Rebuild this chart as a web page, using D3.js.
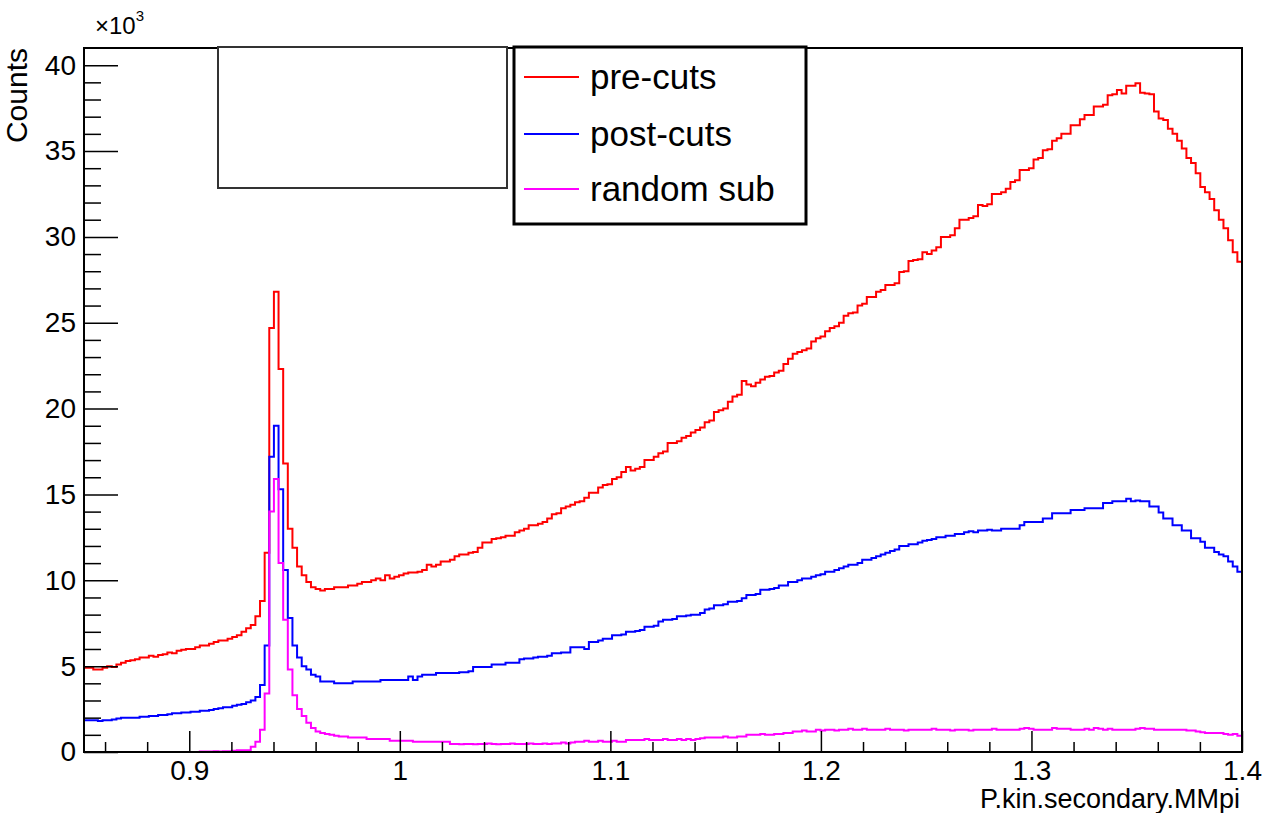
<!DOCTYPE html>
<html>
<head>
<meta charset="utf-8">
<script src="https://cdn.jsdelivr.net/npm/d3@7/dist/d3.min.js"></script>
<style>
  html, body { margin: 0; padding: 0; background: #fff; }
  svg { display: block; font-family: "Liberation Sans", Arial, Helvetica, sans-serif; }
</style>
</head>
<body>
<svg id="chart" width="1262" height="813"></svg>
<script>
// ---- data (counts in units of 10^3), 250 bins from 0.85 to 1.4 ----
const xLow = 0.85, xHigh = 1.4, nBins = 250;

const preCuts = [
  4.9,4.9,4.8,4.8,4.9,5.0,4.95,5.1,5.2,5.3,
  5.35,5.4,5.5,5.5,5.6,5.55,5.65,5.7,5.8,5.75,
  5.9,5.95,6.0,6.0,6.1,6.2,6.2,6.3,6.4,6.5,
  6.5,6.6,6.7,6.8,7.0,7.2,7.4,7.9,8.8,11.6,
  24.7,26.8,22.3,16.8,13.0,11.9,10.8,10.3,9.9,9.6,
  9.5,9.4,9.5,9.5,9.6,9.6,9.6,9.7,9.7,9.8,
  9.9,9.9,10.0,10.1,10.0,10.3,10.1,10.2,10.3,10.4,
  10.45,10.45,10.5,10.6,10.9,10.8,10.9,11.1,11.1,11.2,
  11.4,11.5,11.5,11.6,11.65,11.9,12.2,12.2,12.4,12.45,
  12.5,12.6,12.6,12.8,12.9,13.0,13.2,13.2,13.3,13.4,
  13.6,13.85,13.9,14.2,14.3,14.4,14.55,14.6,14.8,15.1,
  15.1,15.4,15.55,15.6,15.9,16.0,16.3,16.6,16.4,16.5,
  16.6,17.0,17.0,17.2,17.4,17.5,18.0,18.0,18.1,18.3,
  18.4,18.6,18.75,18.9,19.2,19.3,19.8,19.9,20.0,20.4,
  20.7,20.8,21.6,21.4,21.3,21.5,21.7,21.85,21.9,22.1,
  22.2,22.6,22.9,23.2,23.3,23.4,23.5,23.9,24.1,24.2,
  24.5,24.7,24.8,25.0,25.4,25.55,25.6,26.0,26.1,26.5,
  26.5,26.8,26.9,27.2,27.2,27.3,27.95,28.0,28.6,28.65,
  28.7,29.1,29.0,29.2,29.4,30.0,30.0,30.1,30.5,31.0,
  31.0,31.1,31.2,31.85,31.8,31.9,32.5,32.5,32.6,32.8,
  33.2,33.3,33.9,33.9,34.0,34.5,34.6,35.05,35.1,35.6,
  35.75,36.0,36.0,36.5,36.5,36.85,37.1,37.1,37.6,37.6,
  37.7,38.25,38.3,38.55,38.35,38.8,38.8,38.95,38.4,38.35,
  38.3,37.3,36.9,36.8,36.3,36.0,35.6,35.15,34.6,34.3,
  33.7,32.9,32.6,32.2,31.55,31.0,30.5,29.8,29.1,28.55
];

const postCuts = [
  1.85,1.85,1.85,1.8,1.85,1.85,1.9,1.95,2.0,2.0,
  2.0,2.0,2.05,2.05,2.1,2.1,2.15,2.15,2.2,2.25,
  2.25,2.3,2.3,2.35,2.35,2.4,2.4,2.45,2.5,2.55,
  2.6,2.6,2.7,2.75,2.8,2.9,3.0,3.2,3.9,6.2,
  17.2,19.0,15.3,10.6,7.8,6.2,5.5,5.0,4.8,4.5,
  4.4,4.1,4.1,4.1,4.0,4.0,4.0,4.0,4.1,4.1,
  4.1,4.1,4.1,4.1,4.2,4.2,4.2,4.2,4.2,4.2,
  4.4,4.2,4.4,4.5,4.5,4.5,4.6,4.6,4.6,4.6,
  4.6,4.65,4.65,4.7,4.95,4.95,4.95,4.95,5.1,5.1,
  5.1,5.2,5.2,5.2,5.4,5.45,5.45,5.5,5.55,5.55,
  5.6,5.75,5.75,5.8,5.8,6.1,6.1,6.1,6.0,6.4,
  6.4,6.5,6.6,6.6,6.8,6.8,6.85,7.0,7.0,7.05,
  7.1,7.3,7.3,7.35,7.6,7.7,7.7,7.75,7.9,7.9,
  7.95,8.0,8.0,8.1,8.3,8.35,8.55,8.55,8.6,8.75,
  8.75,8.8,8.95,9.15,9.15,9.2,9.45,9.45,9.5,9.55,
  9.7,9.7,9.9,9.9,10.0,10.1,10.1,10.2,10.3,10.35,
  10.5,10.5,10.6,10.7,10.8,10.9,10.9,11.0,11.2,11.2,
  11.3,11.4,11.5,11.6,11.7,11.8,12.0,12.0,12.1,12.1,
  12.2,12.3,12.35,12.4,12.5,12.5,12.6,12.6,12.7,12.7,
  12.8,12.85,12.8,12.9,12.9,12.95,12.9,12.9,13.0,13.0,
  13.0,13.0,13.2,13.4,13.4,13.4,13.4,13.6,13.6,13.9,
  13.9,13.9,13.9,14.1,14.1,14.1,14.2,14.2,14.2,14.2,
  14.5,14.5,14.6,14.6,14.6,14.75,14.6,14.65,14.6,14.6,
  14.3,14.3,13.95,13.6,13.6,13.2,13.2,12.9,12.9,12.45,
  12.45,12.25,11.9,11.9,11.65,11.5,11.4,11.1,10.8,10.5
];

const randomSub = [
  0,0,0,0,0,0,0,0,0,0,
  0,0,0,0,0,0,0,0,0,0,
  0,0,0,0,0,0.03,0.03,0.03,0.05,0.03,
  0.05,0.05,0.08,0.1,0.1,0.1,0.3,0.6,1.3,3.4,
  14.0,15.9,11.0,7.7,4.8,3.3,2.5,2.1,1.7,1.4,
  1.2,1.1,1.05,1.0,0.95,0.9,0.9,0.85,0.85,0.85,
  0.85,0.75,0.75,0.75,0.75,0.75,0.65,0.65,0.65,0.65,
  0.65,0.6,0.6,0.6,0.6,0.6,0.6,0.6,0.6,0.47,
  0.47,0.45,0.47,0.47,0.45,0.47,0.47,0.5,0.47,0.45,
  0.47,0.47,0.5,0.47,0.47,0.47,0.5,0.47,0.47,0.5,
  0.47,0.5,0.5,0.55,0.5,0.55,0.6,0.6,0.65,0.6,
  0.6,0.65,0.6,0.6,0.65,0.6,0.6,0.7,0.7,0.7,
  0.7,0.75,0.7,0.7,0.7,0.75,0.7,0.7,0.75,0.7,
  0.75,0.7,0.75,0.8,0.85,0.85,0.85,0.85,0.9,0.85,
  0.85,0.9,0.9,1.0,1.0,1.0,1.05,1.0,1.0,1.05,
  1.05,1.1,1.1,1.2,1.2,1.25,1.2,1.2,1.3,1.25,
  1.3,1.3,1.25,1.3,1.3,1.35,1.3,1.3,1.35,1.3,
  1.3,1.3,1.3,1.35,1.3,1.3,1.3,1.25,1.3,1.3,
  1.3,1.3,1.3,1.35,1.3,1.3,1.3,1.25,1.3,1.3,
  1.3,1.25,1.3,1.3,1.3,1.3,1.35,1.3,1.3,1.3,
  1.3,1.3,1.35,1.4,1.35,1.3,1.3,1.3,1.3,1.4,
  1.35,1.35,1.35,1.3,1.3,1.3,1.35,1.3,1.4,1.35,
  1.3,1.35,1.3,1.3,1.3,1.3,1.3,1.35,1.4,1.35,
  1.35,1.3,1.3,1.3,1.3,1.3,1.3,1.3,1.25,1.25,
  1.2,1.15,1.1,1.1,1.1,1.1,1.05,1.0,1.05,0.95
];

const seriesNames = ["pre-cuts", "post-cuts", "random sub"];
const seriesColors = ["#ff0000", "#0000ff", "#ff00ff"];
const yTickValues = [0, 5, 10, 15, 20, 25, 30, 35, 40];
const xTickValues = [0.9, 1.0, 1.1, 1.2, 1.3, 1.4];
const xTickLabels = ["0.9", "1", "1.1", "1.2", "1.3", "1.4"];
const xTitle = "P.kin.secondary.MMpi";
const yTitle = "Counts";

// ---- layout ----
const L = 84, R = 1242, T = 48, B = 752;
const FONT = "'Liberation Sans', Arial, Helvetica, sans-serif";

const svg = d3.select("#chart");
const x = d3.scaleLinear().domain([xLow, xHigh]).range([L, R]);
const y = d3.scaleLinear().domain([0, 41]).range([B, T]);

const binWidth = (xHigh - xLow) / nBins;
const edges = d3.range(nBins + 1).map(i => xLow + i * binWidth);

svg.append("defs").append("clipPath").attr("id", "frameClip")
  .append("rect").attr("x", L - 1).attr("y", T).attr("width", R - L + 2).attr("height", B - T + 1);

function histPoints(vals) {
  const pts = [[edges[0], 0]];
  vals.forEach((v, i) => { pts.push([edges[i], v]); pts.push([edges[i + 1], v]); });
  pts.push([edges[nBins], 0]);
  return pts;
}
const line = d3.line().x(d => x(d[0])).y(d => y(d[1]));

const gHist = svg.append("g").attr("clip-path", "url(#frameClip)");
[preCuts, postCuts, randomSub].forEach((vals, k) => {
  gHist.append("path")
    .attr("d", line(histPoints(vals)))
    .attr("fill", "none")
    .attr("stroke", seriesColors[k])
    .attr("stroke-width", 2)
    .attr("stroke-linejoin", "miter");
});

// ---- axes ----
const yMajor = d3.axisLeft(y).tickValues(yTickValues).tickSize(-34).tickPadding(8)
  .tickFormat(d3.format("d"));
const yMinor = d3.axisLeft(y).tickValues(d3.range(0, 41, 1).filter(v => v % 5 !== 0))
  .tickSize(-17).tickFormat("");
const gy1 = svg.append("g").attr("transform", `translate(${L},0)`).call(yMajor);
const gy2 = svg.append("g").attr("transform", `translate(${L},0)`).call(yMinor);

const xMinorVals = d3.range(86, 140, 2).filter(v => v % 10 !== 0).map(v => v / 100);
const xMajor = d3.axisBottom(x).tickValues(xTickValues).tickSize(-21).tickPadding(8)
  .tickFormat((d, i) => xTickLabels[i]);
const xMinor = d3.axisBottom(x).tickValues(xMinorVals).tickSize(-10).tickFormat("");
const gx1 = svg.append("g").attr("transform", `translate(0,${B})`).call(xMajor);
const gx2 = svg.append("g").attr("transform", `translate(0,${B})`).call(xMinor);

[gy1, gy2, gx1, gx2].forEach(g => {
  g.select(".domain").remove();
  g.selectAll(".tick line").attr("stroke", "#000").attr("stroke-width", 1.5);
  g.selectAll(".tick text").attr("fill", "#000").style("font-family", FONT).style("font-size", "28px");
});

// frame
svg.append("rect").attr("x", L).attr("y", T).attr("width", R - L).attr("height", B - T)
  .attr("fill", "none").attr("stroke", "#000").attr("stroke-width", 2);

// multiplier
const mult = svg.append("text").attr("x", 95).attr("y", 34)
  .style("font-family", FONT).style("font-size", "24px").attr("fill", "#000");
mult.append("tspan").text("\u00d710");
mult.append("tspan").attr("dy", -13).style("font-size", "15px").text("3");

// titles
svg.append("text").attr("transform", `translate(27,${T}) rotate(-90)`)
  .attr("text-anchor", "end").style("font-family", FONT).style("font-size", "30px")
  .attr("fill", "#000").text(yTitle);
svg.append("text").attr("x", 1240).attr("y", 808).attr("text-anchor", "end")
  .style("font-family", FONT).style("font-size", "27px").attr("fill", "#000").text(xTitle);

// empty box
svg.append("rect").attr("x", 218).attr("y", 47).attr("width", 289).attr("height", 141)
  .attr("fill", "#fff").attr("stroke", "#333").attr("stroke-width", 2);

// legend
const leg = svg.append("g");
leg.append("rect").attr("x", 514).attr("y", 47).attr("width", 292).attr("height", 177)
  .attr("fill", "#fff").attr("stroke", "#000").attr("stroke-width", 3);
const legY = [77, 134, 189];
seriesNames.forEach((name, i) => {
  leg.append("line").attr("x1", 524).attr("x2", 579).attr("y1", legY[i]).attr("y2", legY[i])
    .attr("stroke", seriesColors[i]).attr("stroke-width", 2);
  leg.append("text").attr("x", 590).attr("y", legY[i]).attr("dy", "0.35em")
    .style("font-family", FONT).style("font-size", "35px").attr("fill", "#000").text(name);
});
</script>
</body>
</html>
